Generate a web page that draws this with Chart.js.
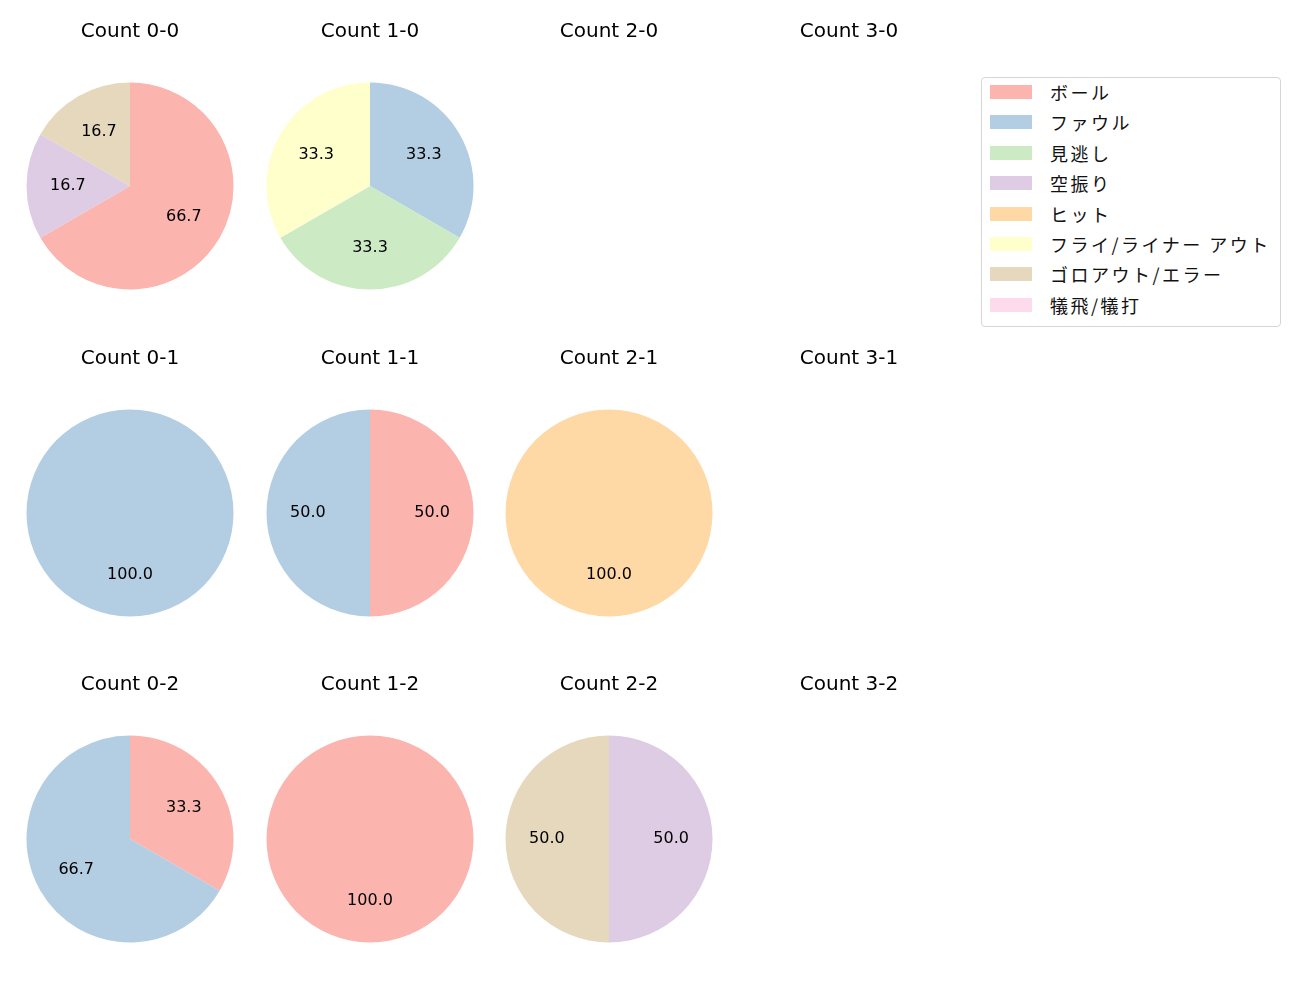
<!DOCTYPE html>
<html>
<head>
<meta charset="utf-8">
<script src="https://cdn.jsdelivr.net/npm/chart.js@4/dist/chart.umd.min.js"></script>
<style>
  body { margin: 0; background: #fff; width: 1300px; height: 1000px; position: relative; overflow: hidden;
         font-family: "Noto Sans CJK JP", "Noto Sans", sans-serif; }
  .cell { position: absolute; width: 240px; height: 326px; }
  #legend { position: absolute; left: 981px; top: 77px; width: 300px; height: 250px;
            border: 1px solid #d5d5d5; border-radius: 4px; box-sizing: border-box; }
  .item { position: absolute; left: 8px; height: 20px; display: flex; align-items: center;
          font-size: 18px; letter-spacing: 2.5px; color: #111; white-space: nowrap; }
  .item span { display: inline-block; width: 42px; height: 14px; margin-right: 18px; }
</style>
</head>
<body>
<div id="legend"></div>
<script>
const categories = ['ボール', 'ファウル', '見逃し', '空振り', 'ヒット', 'フライ/ライナー アウト', 'ゴロアウト/エラー', '犠飛/犠打'];
const colors = ['#fbb4ae', '#b3cde3', '#ccebc5', '#decbe4', '#fed9a6', '#ffffcc', '#e5d8bd', '#fddaec'];

// counts per pitch count, in category order
const count00 = [4, 0, 0, 1, 0, 0, 1, 0];
const count10 = [0, 1, 1, 0, 0, 1, 0, 0];
const count20 = [0, 0, 0, 0, 0, 0, 0, 0];
const count30 = [0, 0, 0, 0, 0, 0, 0, 0];
const count01 = [0, 1, 0, 0, 0, 0, 0, 0];
const count11 = [1, 1, 0, 0, 0, 0, 0, 0];
const count21 = [0, 0, 0, 0, 1, 0, 0, 0];
const count31 = [0, 0, 0, 0, 0, 0, 0, 0];
const count02 = [1, 2, 0, 0, 0, 0, 0, 0];
const count12 = [1, 0, 0, 0, 0, 0, 0, 0];
const count22 = [0, 0, 0, 1, 0, 0, 1, 0];
const count32 = [0, 0, 0, 0, 0, 0, 0, 0];

const grid = [
  [['Count 0-0', count00], ['Count 1-0', count10], ['Count 2-0', count20], ['Count 3-0', count30]],
  [['Count 0-1', count01], ['Count 1-1', count11], ['Count 2-1', count21], ['Count 3-1', count31]],
  [['Count 0-2', count02], ['Count 1-2', count12], ['Count 2-2', count22], ['Count 3-2', count32]],
];

const latin = '"DejaVu Sans", "Noto Sans", sans-serif';

const pctLabels = {
  id: 'pctLabels',
  afterDatasetsDraw(chart) {
    const ctx = chart.ctx;
    const data = chart.data.datasets[0].data;
    const total = data.reduce((a, b) => a + b, 0);
    if (!total) return;
    ctx.save();
    ctx.font = '16px ' + latin;
    ctx.fillStyle = '#000';
    ctx.textAlign = 'center';
    ctx.textBaseline = 'middle';
    chart.getDatasetMeta(0).data.forEach((arc, i) => {
      if (!data[i]) return;
      const p = arc.getProps(['x', 'y', 'startAngle', 'endAngle', 'outerRadius'], true);
      const mid = (p.startAngle + p.endAngle) / 2;
      const r = p.outerRadius * 0.6;
      ctx.fillText((data[i] / total * 100).toFixed(1), p.x + Math.cos(mid) * r, p.y + Math.sin(mid) * r - 0.5);
    });
    ctx.restore();
  }
};

const colX = [130, 369.5, 609, 849];
const rowY = [0, 326.5, 653];

grid.forEach((row, r) => {
  row.forEach(([title, values], c) => {
    const div = document.createElement('div');
    div.className = 'cell';
    div.style.left = (colX[c] - 120) + 'px';
    div.style.top = rowY[r] + 'px';
    const canvas = document.createElement('canvas');
    canvas.width = 240;
    canvas.height = 326;
    div.appendChild(canvas);
    document.body.appendChild(div);
    new Chart(canvas, {
      type: 'pie',
      data: {
        labels: categories,
        datasets: [{ data: values, backgroundColor: colors, borderWidth: 0, radius: 103.5 }]
      },
      options: {
        responsive: false,
        animation: false,
        events: [],
        layout: { padding: { top: 0, bottom: 23.4, left: 0, right: 0 } },
        plugins: {
          legend: { display: false },
          tooltip: { enabled: false },
          title: {
            display: true,
            text: title,
            color: '#000',
            font: { family: latin, size: 20, weight: 'normal', lineHeight: 1.2 },
            padding: { top: 20, bottom: 25.4 }
          }
        }
      },
      plugins: [pctLabels]
    });
  });
});

const legend = document.getElementById('legend');
categories.forEach((name, i) => {
  const item = document.createElement('div');
  item.className = 'item';
  item.style.top = (4 + i * 30.4) + 'px';
  item.innerHTML = '<span style="background:' + colors[i] + '"></span>' + name;
  legend.appendChild(item);
});
</script>
</body>
</html>
